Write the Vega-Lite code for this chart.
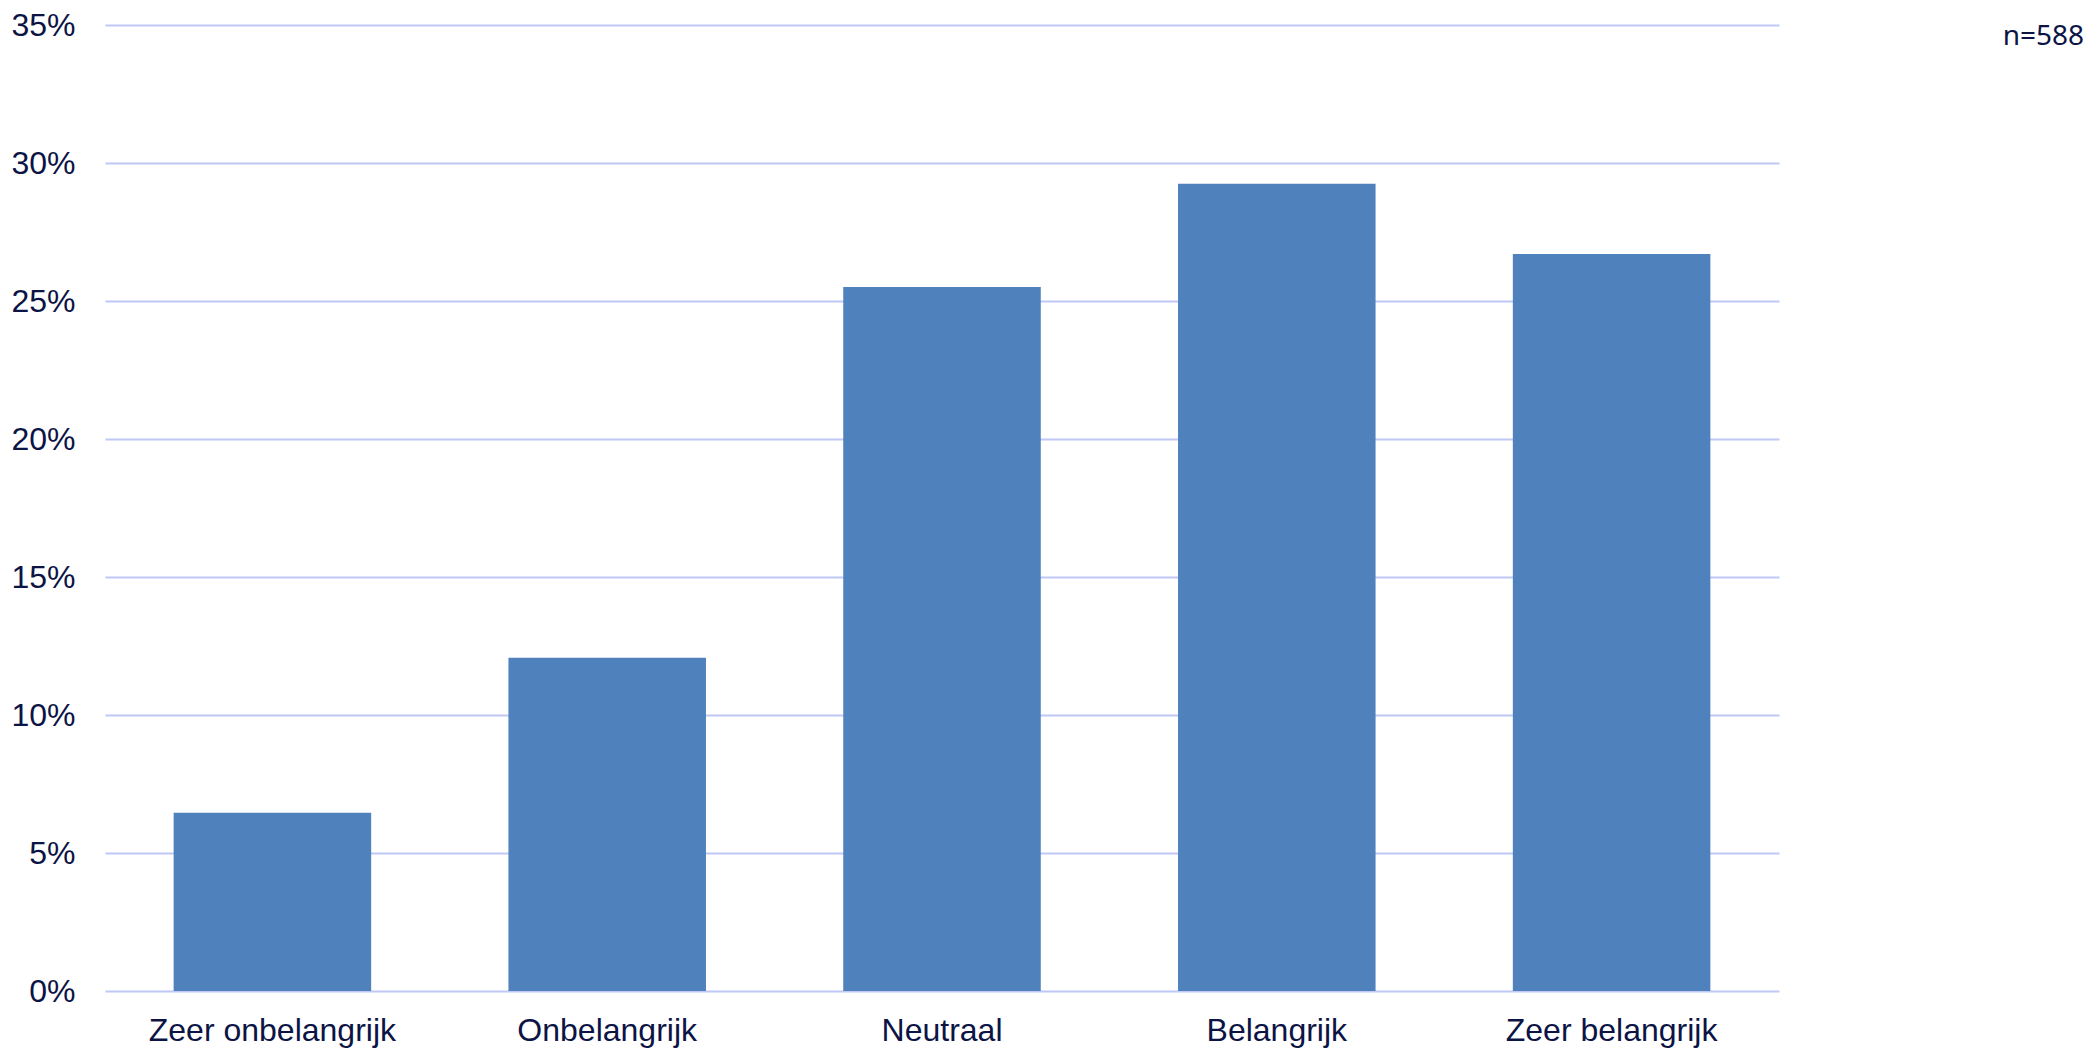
{
  "$schema": "https://vega.github.io/schema/vega-lite/v6.json",
  "autosize": {"type": "none"},
  "padding": {"left": 105, "top": 25, "right": 309, "bottom": 61},
  "width": 1674,
  "height": 966,
  "background": "white",
  "title": {
    "text": "n=588",
    "anchor": "end",
    "frame": "group",
    "orient": "top",
    "align": "right",
    "baseline": "alphabetic",
    "offset": 0,
    "dx": 305,
    "dy": 64,
    "font": "Noto Sans",
    "fontSize": 28,
    "fontWeight": "normal",
    "color": "#0C1445"
  },
  "data": {
    "values": [
      {"categorie": "Zeer onbelangrijk", "aandeel": 0.0646},
      {"categorie": "Onbelangrijk", "aandeel": 0.1207},
      {"categorie": "Neutraal", "aandeel": 0.2551},
      {"categorie": "Belangrijk", "aandeel": 0.2925},
      {"categorie": "Zeer belangrijk", "aandeel": 0.2670}
    ]
  },
  "mark": {"type": "bar", "color": "#4F81BD"},
  "encoding": {
    "x": {
      "field": "categorie",
      "type": "nominal",
      "sort": null,
      "scale": {"paddingInner": 0.41, "paddingOuter": 0.205},
      "axis": {
        "title": null,
        "labelAngle": 0,
        "ticks": false,
        "domain": false,
        "labelPadding": 24,
        "labelLimit": 0,
        "labelFont": "Liberation Sans",
        "labelFontSize": 32,
        "labelColor": "#0C1445"
      }
    },
    "y": {
      "field": "aandeel",
      "type": "quantitative",
      "scale": {"domain": [0, 0.35], "nice": false},
      "axis": {
        "title": null,
        "format": ".0%",
        "values": [0, 0.05, 0.1, 0.15, 0.2, 0.25, 0.3, 0.35],
        "ticks": false,
        "domain": false,
        "labelPadding": 30,
        "labelFont": "Liberation Sans",
        "labelFontSize": 32,
        "labelColor": "#0C1445",
        "grid": true,
        "gridColor": "#C0C8F5",
        "gridWidth": 2,
        "zindex": 0
      }
    }
  },
  "config": {"view": {"stroke": null}}
}
